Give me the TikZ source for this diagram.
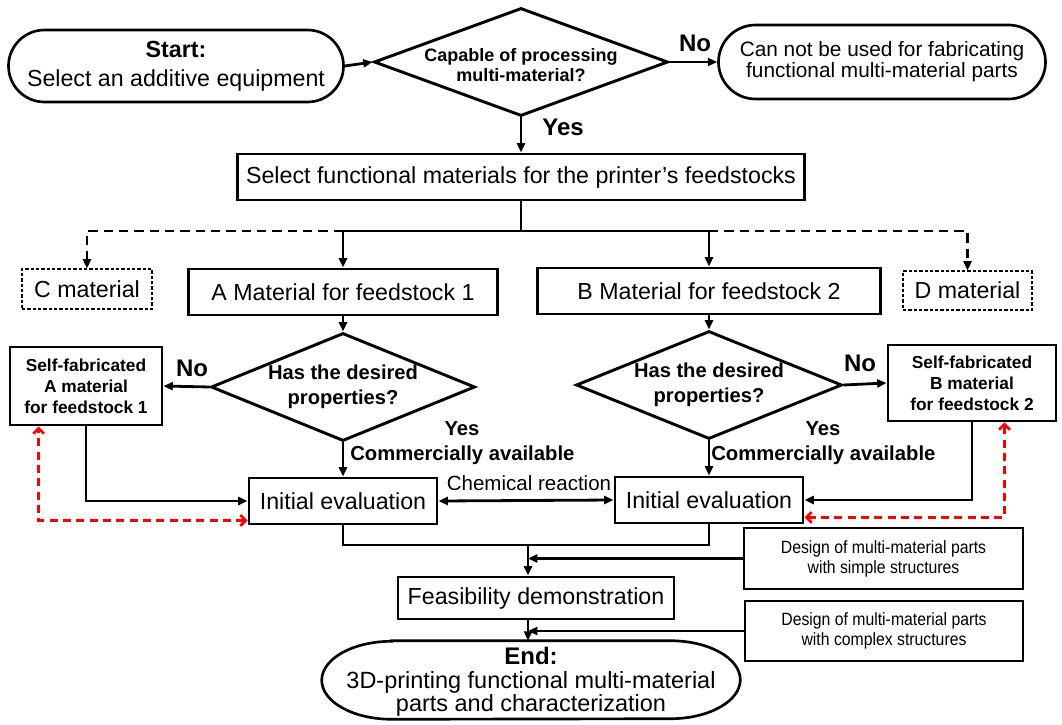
\documentclass[tikz,border=0pt]{standalone}
\usepackage{fontspec}
\setmainfont{Liberation Sans}
\newfontfamily\narrowsans[FakeStretch=0.89]{Liberation Sans}
\usetikzlibrary{shapes.geometric,shapes.misc,arrows.meta,calc}
\newcommand\fsz[2]{\fontsize{#1pt}{#2pt}\selectfont}
\begin{document}
\begin{tikzpicture}[x=0.75pt,y=-0.75pt,
  box/.style={draw, line width=2.2pt, inner sep=0pt, align=center, font=\fsz{17.4}{21}},
  thinbox/.style={draw, line width=0.8pt, dash pattern=on 2.5pt off 1.5pt, inner sep=0pt, align=center, font=\fsz{17.4}{21}},
  term/.style={rounded rectangle, draw, line width=2pt, inner sep=0pt, align=center},
  dia/.style={diamond, draw, line width=2.2pt, inner sep=0pt},
  selfbox/.style={draw, line width=2.2pt, inner sep=0pt, align=center, font=\bfseries\fsz{13}{15.75}},
  designbox/.style={draw, line width=2.2pt, inner sep=0pt, align=center, font=\narrowsans\fsz{13.3}{15}},
  ln/.style={line width=2.1pt},
  arr/.style={line width=2.1pt, -{Triangle[length=7pt,width=6pt]}},
  dsh/.style={arr, dash pattern=on 7pt off 4.5pt},
  redarr/.style={line width=2pt, draw={rgb,255:red,255;green,0;blue,0}, dash pattern=on 6pt off 4pt,
     {Straight Barb[length=4pt,width=8pt]}-{Straight Barb[length=4pt,width=8pt]}},
  lbl/.style={inner sep=0pt, font=\bfseries\fsz{18}{20}},
  smlbl/.style={inner sep=0pt, font=\bfseries\fsz{15.2}{18}}
]
\useasboundingbox (0,0) rectangle (1062,724);

% top row
\node[term, minimum width=251.25pt, minimum height=54pt, font=\fsz{17.4}{21.4}] (start) at (176,66)
  {{\bfseries\fsz{17.5}{21.4}Start:}\\Select an additive equipment};
\node[dia, minimum width=220.5pt, minimum height=81pt,
  label={[font=\bfseries\fsz{13.5}{15}, align=center, yshift=-2pt]center:Capable of processing\\multi-material?}]
  (d1) at (521,62) {};
\node[term, minimum width=245.25pt, minimum height=55.5pt, font=\fsz{15.6}{15.6}] (noT) at (882,62)
  {Can not be used for fabricating\\functional multi-material parts};
\node[box, minimum width=425.25pt, minimum height=34.5pt] (sel) at (521,177)
  {Select functional materials for the printer’s feedstocks};

% materials
\node[thinbox, minimum width=97.5pt, minimum height=30pt] (cmat) at (87,289) {C material};
\node[box, minimum width=231.75pt, minimum height=34.5pt] (amat) at (343,292) {A Material for feedstock 1};
\node[box, minimum width=257.25pt, minimum height=34.5pt] (bmat) at (709,291) {B Material for feedstock 2};
\node[thinbox, minimum width=96.75pt, minimum height=29.25pt] (dmat) at (967.5,290.5) {D material};

% decisions
\node[dia, minimum width=198pt, minimum height=81pt,
  label={[font=\bfseries\fsz{15.1}{19}, align=center]center:Has the desired\\properties?}]
  (dA) at (343,387) {};
\node[dia, minimum width=199.5pt, minimum height=81pt,
  label={[font=\bfseries\fsz{15.1}{19}, align=center]center:Has the desired\\properties?}]
  (dB) at (709,385) {};
\node[selfbox, minimum width=114pt, minimum height=58.5pt] (selfA) at (86,386)
  {Self-fabricated\\A material\\for feedstock 1};
\node[selfbox, minimum width=126pt, minimum height=57pt] (selfB) at (972,383)
  {Self-fabricated\\B material\\for feedstock 2};

% evaluations
\node[box, minimum width=141pt, minimum height=34.5pt] (iA) at (343,501) {Initial evaluation};
\node[box, minimum width=141pt, minimum height=34.5pt] (iB) at (709,500) {Initial evaluation};

% bottom
\node[box, minimum width=207pt, minimum height=31.5pt] (feas) at (536,598) {Feasibility demonstration};
\node[designbox, minimum width=209.25pt, minimum height=45.75pt] (simp) at (883.5,558.5)
  {Design of multi-material parts\\with simple structures};
\node[designbox, minimum width=208.5pt, minimum height=45pt] (comp) at (884,631)
  {Design of multi-material parts\\with complex structures};
\node[inner sep=0pt, minimum width=313.5pt, minimum height=58.5pt, align=center, font=\fsz{17.6}{17.5}] (endT) at (531,682)
  {{\bfseries\fsz{18}{17.5}End:}\\3D-printing functional multi-material\\parts and characterization};
\draw[line width=2pt] ($(endT.north west)+(52.5pt,1.5pt)$) -- ($(endT.north east)+(-52.5pt,1.5pt)$)
  arc[start angle=90,end angle=-90,x radius=52.5pt,y radius=29.25pt]
  -- ($(endT.south west)+(52.5pt,1.5pt)$)
  arc[start angle=270,end angle=90,x radius=52.5pt,y radius=29.25pt] -- cycle;
\coordinate (endtop) at ($(endT.north)+(0,1.5pt)$);

% connectors top
\draw[arr] (start.east) -- (d1.west);
\draw[arr] (d1.east) -- (noT.west);
\node[lbl] (no1) at (695,43) {No};
\draw[arr] (d1.south) -- (sel.north);
\node[lbl] (yes1) at (563,127) {Yes};

\coordinate (j0) at (521,231);
\draw[ln] (sel.south) -- (j0);
\draw[ln] (amat.north |- j0) -- (bmat.north |- j0);
\draw[arr] (amat.north |- j0) -- (amat.north);
\draw[arr] (bmat.north |- j0) -- (bmat.north);
\draw[dsh] (amat.north |- j0) -| (cmat.north);
\draw[dsh] (bmat.north |- j0) -| (dmat.north);

\draw[arr] (amat.south) -- (dA.north);
\draw[arr] (bmat.south) -- (dB.north);

\draw[arr] (dA.west) -- (selfA.east);
\node[lbl] (noA) at (192,368) {No};
\draw[arr] (dB.east) -- (selfB.west);
\node[lbl] (noB) at (860,363) {No};

\draw[arr] (dA.south) -- (iA.north);
\node[smlbl, anchor=base] (yesA) at (462,435) {Yes};
\node[smlbl, anchor=base west] (caA) at (350,460) {Commercially available};
\draw[arr] (dB.south) -- (iB.north);
\node[smlbl, anchor=base] (yesB) at (823,435) {Yes};
\node[smlbl, anchor=base west] (caB) at (711,460) {Commercially available};

\draw[line width=2.1pt, {Triangle[length=7pt,width=6pt]}-{Triangle[length=7pt,width=6pt]}] (iA.east) -- (iB.west);
\node[inner sep=0pt, anchor=base, font=\fsz{15.4}{18}] (chem) at (529,490) {Chemical reaction};

\draw[arr] (selfA.south) |- (iA.west);
\draw[arr] (selfB.south) |- (iB.east);
\draw[redarr] ([yshift=3.75pt]iA.south west) -| ([xshift=22.5pt]selfA.south west);
\draw[redarr] ([yshift=5.25pt]iB.south east) -| ([xshift=-39.75pt]selfB.south east);

% bottom connectors
\coordinate (jb) at (528,545);
\draw[ln] (iA.south) -- (iA.south |- jb) -- (iB.south |- jb) -- (iB.south);
\draw[arr] (jb) -- (jb |- feas.north);
\draw[arr] (simp.west) -- (jb |- simp.west);
\draw[arr] (jb |- feas.south) -- (jb |- endtop);
\draw[arr] (comp.west) -- (jb |- comp.west);
\end{tikzpicture}
\end{document}
